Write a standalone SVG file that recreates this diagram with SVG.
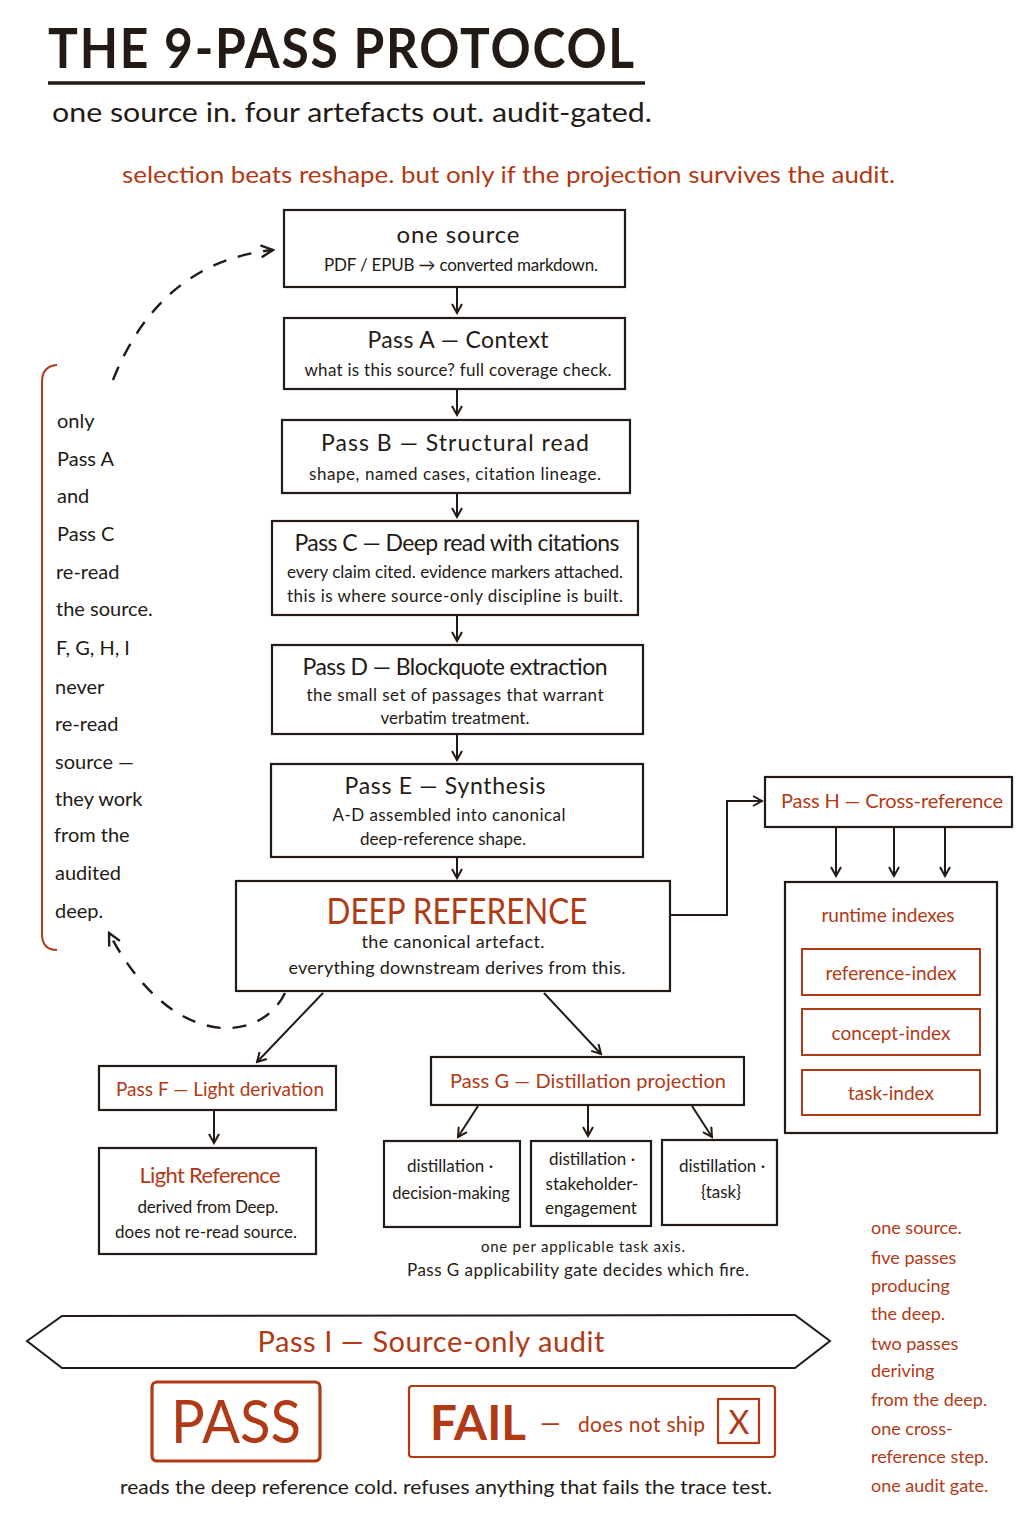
<svg xmlns="http://www.w3.org/2000/svg" width="1024" height="1536" viewBox="0 0 1024 1536">
<style>
text{font-family:"Lato","Open Sans","DejaVu Sans",sans-serif;fill:#241a15}
.r{fill:#b13a16}
.c{text-anchor:middle}
.box{fill:#fff;stroke:#241a15;stroke-width:2.2}
.rbox{fill:#fff;stroke:#b13a16;stroke-width:2}
.ln{fill:none;stroke:#241a15;stroke-width:2}
.dash{fill:none;stroke:#241a15;stroke-width:2.4;stroke-dasharray:14 12}
.t{font-size:23px}
.s{font-size:17px}
</style>
<defs>
<marker id="ah" viewBox="0 0 12 12" refX="10" refY="6" markerWidth="12" markerHeight="12" markerUnits="userSpaceOnUse" orient="auto">
<path d="M1,1 L10,6 L1,11" fill="none" stroke="#241a15" stroke-width="2"/>
</marker>
<marker id="ahb" viewBox="0 0 16 16" refX="14" refY="8" markerWidth="16" markerHeight="16" markerUnits="userSpaceOnUse" orient="auto">
<path d="M2,2 L14,8 L2,14" fill="none" stroke="#241a15" stroke-width="2.4"/>
</marker>
</defs>
<rect width="1024" height="1536" fill="#fff"/>

<g id="header">
<text x="48" y="68" font-size="56" font-weight="bold" textLength="588" lengthAdjust="spacingAndGlyphs" style="letter-spacing:2px">THE 9-PASS PROTOCOL</text>
<line x1="48" y1="83" x2="645" y2="83" stroke="#241a15" stroke-width="3.5"/>
<text x="52" y="122" font-size="26" textLength="600" lengthAdjust="spacingAndGlyphs">one source in. four artefacts out. audit-gated.</text>
<text x="122" y="183" font-size="24" class="r" textLength="773" lengthAdjust="spacingAndGlyphs">selection beats reshape. but only if the projection survives the audit.</text>
</g>

<g id="connectors">
<line class="ln" x1="457" y1="287" x2="457" y2="313" marker-end="url(#ah)"/>
<line class="ln" x1="457" y1="389" x2="457" y2="415" marker-end="url(#ah)"/>
<line class="ln" x1="457" y1="493" x2="457" y2="517" marker-end="url(#ah)"/>
<line class="ln" x1="457" y1="615" x2="457" y2="641" marker-end="url(#ah)"/>
<line class="ln" x1="457" y1="734" x2="457" y2="760" marker-end="url(#ah)"/>
<line class="ln" x1="457" y1="857" x2="457" y2="878" marker-end="url(#ah)"/>
<polyline class="ln" points="670,915 727,915 727,801 762,801" marker-end="url(#ah)"/>
<line class="ln" x1="836" y1="827" x2="836" y2="876" marker-end="url(#ah)"/>
<line class="ln" x1="894" y1="827" x2="894" y2="876" marker-end="url(#ah)"/>
<line class="ln" x1="945" y1="827" x2="945" y2="876" marker-end="url(#ah)"/>
<line class="ln" x1="323" y1="993" x2="257" y2="1062" marker-end="url(#ah)"/>
<line class="ln" x1="544" y1="993" x2="601" y2="1054" marker-end="url(#ah)"/>
<line class="ln" x1="214" y1="1110" x2="214" y2="1143" marker-end="url(#ah)"/>
<line class="ln" x1="478" y1="1106" x2="458" y2="1137" marker-end="url(#ah)"/>
<line class="ln" x1="588" y1="1106" x2="588" y2="1136" marker-end="url(#ah)"/>
<line class="ln" x1="692" y1="1106" x2="712" y2="1137" marker-end="url(#ah)"/>
<path class="dash" d="M113,380 Q160,262 273,250" marker-end="url(#ahb)"/>
<path class="dash" d="M285,993 C260,1045 170,1050 109,933" marker-end="url(#ahb)"/>
</g>

<g id="note-left">
<path d="M57,365 Q42,366 42,382 L42,934 Q42,950 57,950" fill="none" stroke="#b13a16" stroke-width="2"/>
<g font-size="20">
<text x="57" y="428">only</text>
<text x="57" y="466">Pass A</text>
<text x="57" y="503">and</text>
<text x="57" y="541">Pass C</text>
<text x="56" y="579">re-read</text>
<text x="56" y="616">the source.</text>
<text x="56" y="655">F, G, H, I</text>
<text x="55" y="694">never</text>
<text x="55" y="731">re-read</text>
<text x="55" y="769">source —</text>
<text x="55" y="806">they work</text>
<text x="54" y="842">from the</text>
<text x="55" y="880">audited</text>
<text x="55" y="918">deep.</text>
</g>
</g>

<g id="source">
<rect class="box" x="284" y="210" width="341" height="77"/>
<text class="c" x="458" y="243" font-size="24" textLength="123">one source</text>
<text class="c s" x="461" y="271" textLength="274">PDF / EPUB → converted markdown.</text>
</g>
<g id="passA">
<rect class="box" x="284" y="318" width="341" height="71"/>
<text class="c t" x="458" y="348" textLength="181">Pass A — Context</text>
<text class="c s" x="458" y="376" textLength="307">what is this source? full coverage check.</text>
</g>
<g id="passB">
<rect class="box" x="282" y="420" width="348" height="73"/>
<text class="c t" x="455" y="451" textLength="268">Pass B — Structural read</text>
<text class="c s" x="455" y="480" textLength="292">shape, named cases, citation lineage.</text>
</g>
<g id="passC">
<rect class="box" x="272" y="521" width="366" height="94"/>
<text class="c t" x="457" y="551" textLength="325">Pass C — Deep read with citations</text>
<text class="c s" x="455" y="578" textLength="336">every claim cited. evidence markers attached.</text>
<text class="c s" x="455" y="602" textLength="336">this is where source-only discipline is built.</text>
</g>
<g id="passD">
<rect class="box" x="272" y="645" width="371" height="89"/>
<text class="c t" x="455" y="675" textLength="305">Pass D — Blockquote extraction</text>
<text class="c s" x="455" y="701" textLength="297">the small set of passages that warrant</text>
<text class="c s" x="455" y="724" textLength="149">verbatim treatment.</text>
</g>
<g id="passE">
<rect class="box" x="271" y="764" width="372" height="93"/>
<text class="c t" x="445" y="794" textLength="201">Pass E — Synthesis</text>
<text class="c s" x="449" y="821" textLength="233">A-D assembled into canonical</text>
<text class="c s" x="443" y="845" textLength="166">deep-reference shape.</text>
</g>
<g id="deep">
<rect class="box" x="236" y="881" width="434" height="110"/>
<text class="c r" x="457" y="924" font-size="36" textLength="261" lengthAdjust="spacingAndGlyphs">DEEP REFERENCE</text>
<text class="c" x="453" y="948" font-size="18" textLength="183">the canonical artefact.</text>
<text class="c" x="457" y="974" font-size="18" textLength="337">everything downstream derives from this.</text>
</g>
<g id="passH">
<rect class="box" x="765" y="777" width="247" height="50"/>
<text class="c r" x="892" y="808" font-size="20" textLength="222">Pass H — Cross-reference</text>
</g>
<g id="indexes">
<rect class="box" x="785" y="882" width="212" height="251"/>
<text class="c r" x="888" y="922" font-size="19">runtime indexes</text>
<rect class="rbox" x="802" y="949" width="178" height="46"/>
<text class="c r" x="891" y="980" font-size="19">reference-index</text>
<rect class="rbox" x="802" y="1009" width="178" height="46"/>
<text class="c r" x="891" y="1040" font-size="19">concept-index</text>
<rect class="rbox" x="802" y="1070" width="178" height="45"/>
<text class="c r" x="891" y="1100" font-size="19">task-index</text>
</g>
<g id="passF">
<rect class="box" x="99" y="1066" width="237" height="44"/>
<text class="c r" x="220" y="1096" font-size="19" textLength="208">Pass F — Light derivation</text>
</g>
<g id="light">
<rect class="box" x="99" y="1148" width="217" height="106"/>
<text class="c r" x="210" y="1183" font-size="22" textLength="141">Light Reference</text>
<text class="c s" x="208" y="1213" textLength="141">derived from Deep.</text>
<text class="c s" x="206" y="1238" textLength="182">does not re-read source.</text>
</g>
<g id="passG">
<rect class="box" x="431" y="1057" width="313" height="48"/>
<text class="c r" x="588" y="1088" font-size="20" textLength="276">Pass G — Distillation projection</text>
</g>
<g id="dist1">
<rect class="box" x="384" y="1141" width="136" height="86"/>
<text class="c s" x="450" y="1172">distillation ·</text>
<text class="c" x="451" y="1199" font-size="16.5">decision-making</text>
</g>
<g id="dist2">
<rect class="box" x="531" y="1141" width="120" height="85"/>
<text class="c s" x="592" y="1165">distillation ·</text>
<text class="c s" x="592" y="1190">stakeholder-</text>
<text class="c s" x="591" y="1214">engagement</text>
</g>
<g id="dist3">
<rect class="box" x="662" y="1140" width="115" height="85"/>
<text class="c s" x="722" y="1172">distillation ·</text>
<text class="c s" x="721" y="1198">{task}</text>
</g>
<g id="gnote">
<text class="c" x="583" y="1252" font-size="15" textLength="204">one per applicable task axis.</text>
<text class="c" x="578" y="1276" font-size="17" textLength="342">Pass G applicability gate decides which fire.</text>
</g>

<g id="passI">
<polygon points="27,1341 62,1316 795,1315 830,1341 795,1368 62,1368" fill="#fff" stroke="#241a15" stroke-width="2"/>
<text class="c r" x="431" y="1352" font-size="29" textLength="347">Pass I — Source-only audit</text>
</g>
<g id="pass">
<rect x="152" y="1382" width="168" height="79" rx="5" fill="#fff" stroke="#b13a16" stroke-width="3.2"/>
<text class="c r" x="236" y="1443" font-size="60" textLength="130" lengthAdjust="spacingAndGlyphs">PASS</text>
</g>
<g id="fail">
<rect x="409" y="1386" width="366" height="71" rx="3" fill="#fff" stroke="#b13a16" stroke-width="2.2"/>
<text class="r" x="430" y="1440" font-size="48" font-weight="bold" textLength="96" lengthAdjust="spacingAndGlyphs">FAIL</text>
<text class="r" x="540" y="1432" font-size="26">—</text>
<text class="r" x="578" y="1432" font-size="21" textLength="127">does not ship</text>
<rect x="718" y="1399" width="41" height="44" fill="none" stroke="#b13a16" stroke-width="2.2"/>
<text class="c r" x="739" y="1434" font-size="32">X</text>
</g>
<text x="120" y="1494" font-size="19" textLength="652" lengthAdjust="spacingAndGlyphs">reads the deep reference cold. refuses anything that fails the trace test.</text>

<g id="note-right" font-size="18">
<text class="r" x="871" y="1234">one source.</text>
<text class="r" x="871" y="1264">five passes</text>
<text class="r" x="871" y="1292">producing</text>
<text class="r" x="871" y="1320">the deep.</text>
<text class="r" x="871" y="1350">two passes</text>
<text class="r" x="871" y="1377">deriving</text>
<text class="r" x="871" y="1406">from the deep.</text>
<text class="r" x="871" y="1435">one cross-</text>
<text class="r" x="871" y="1463">reference step.</text>
<text class="r" x="871" y="1492">one audit gate.</text>
</g>
</svg>
